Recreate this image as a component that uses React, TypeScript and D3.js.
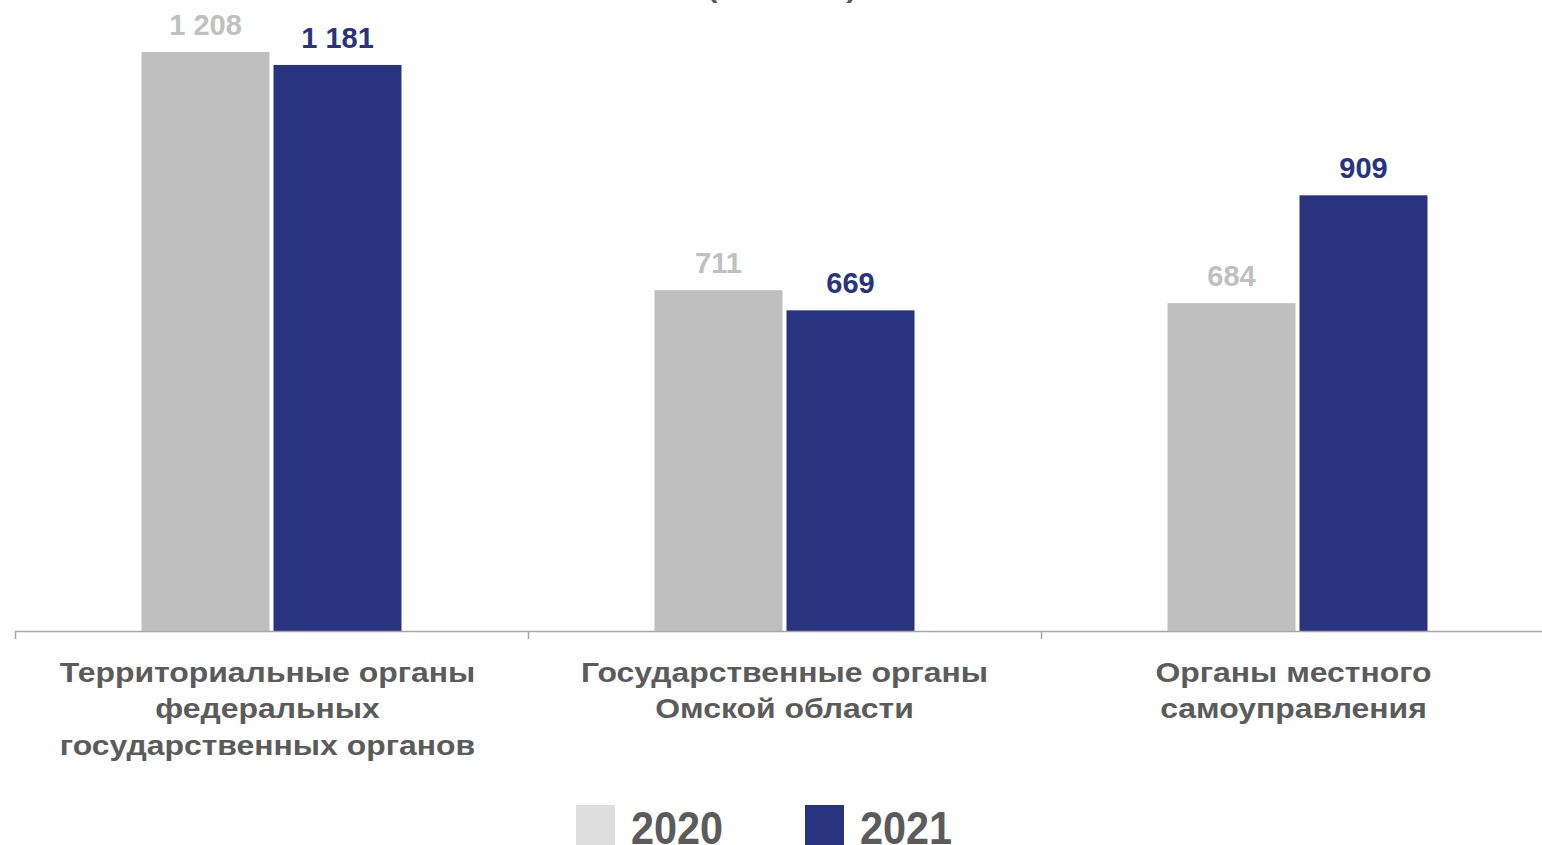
import React from "react";
import * as d3 from "d3";

const categories = [
  ["Территориальные органы", "федеральных", "государственных органов"],
  ["Государственные органы", "Омской области"],
  ["Органы местного", "самоуправления"],
];
const series = ["2020", "2021"];
const values2020 = [1208, 711, 684];
const values2021 = [1181, 669, 909];
const labels2020 = ["1 208", "711", "684"];
const labels2021 = ["1 181", "669", "909"];

const W = 1542;
const H = 845;
const FONT = "'Liberation Sans', Arial, sans-serif";
const GRAY = "#bfbfbf";
const BLUE = "#283480";
const TEXT = "#5b5b5b";

export default function App() {
  const baseY = 631;
  const x0 = d3
    .scaleBand<number>()
    .domain(d3.range(categories.length))
    .range([15, 1554])
    .paddingInner(0)
    .paddingOuter(0);
  const y = d3.scaleLinear().domain([0, 1208]).range([baseY, 52]);
  const barW = 128;
  const gap = 4;
  const data = [values2020, values2021];
  const labels = [labels2020, labels2021];
  const colors = [GRAY, BLUE];
  const labelColors = ["#c0c0c0", BLUE];
  const legendColors = ["#dedede", BLUE];
  const sx = 1.14;

  return (
    <svg
      width={W}
      height={H}
      style={{ position: "absolute", left: 0, top: 0, background: "#fff" }}
      fontFamily={FONT}
    >
      <g transform={`translate(782,0) scale(${sx},1)`}>
        <text x={0} y={-3} textAnchor="middle" fontSize={28} fontWeight="bold" fill={TEXT}>
          (человек)
        </text>
      </g>
      {categories.map((cat, i) => {
        const cx = (x0(i) as number) + x0.bandwidth() / 2;
        return (
          <g key={i}>
            {data.map((vals, s) => {
              const bx = s === 0 ? cx - gap / 2 - barW : cx + gap / 2;
              const top = y(vals[i]);
              return (
                <g key={s}>
                  <rect x={bx} y={top} width={barW} height={baseY - top} fill={colors[s]} />
                  <text
                    x={bx + barW / 2}
                    y={top - 17}
                    textAnchor="middle"
                    fontSize={29}
                    fontWeight="bold"
                    fill={labelColors[s]}
                  >
                    {labels[s][i]}
                  </text>
                </g>
              );
            })}
            <g transform={`translate(${cx - (i === 0 ? 4 : i === 2 ? 4 : 0)},0) scale(${sx},1)`}>
              {cat.map((line, k) => (
                <text
                  key={k}
                  x={0}
                  y={682 + k * 36.5}
                  textAnchor="middle"
                  fontSize={28}
                  fontWeight="bold"
                  fill={TEXT}
                >
                  {line}
                </text>
              ))}
            </g>
          </g>
        );
      })}
      <line x1={15} x2={W} y1={baseY + 0.5} y2={baseY + 0.5} stroke="#a6a6a6" strokeWidth={1.5} />
      {[0, 1, 2].map((i) => {
        const tx = Math.round(x0(i) as number) + 0.5;
        return <line key={i} x1={tx} x2={tx} y1={baseY} y2={baseY + 8} stroke="#a6a6a6" strokeWidth={1.5} />;
      })}
      {series.map((s, k) => {
        const lx = 576 + k * 229;
        return (
          <g key={s}>
            <rect x={lx} y={805} width={39} height={40} fill={legendColors[k]} />
            <g transform={`translate(${lx + 55},0) scale(0.9,1)`}>
              <text x={0} y={844} fontSize={46} fontWeight="bold" fill={TEXT}>
                {s}
              </text>
            </g>
          </g>
        );
      })}
    </svg>
  );
}
